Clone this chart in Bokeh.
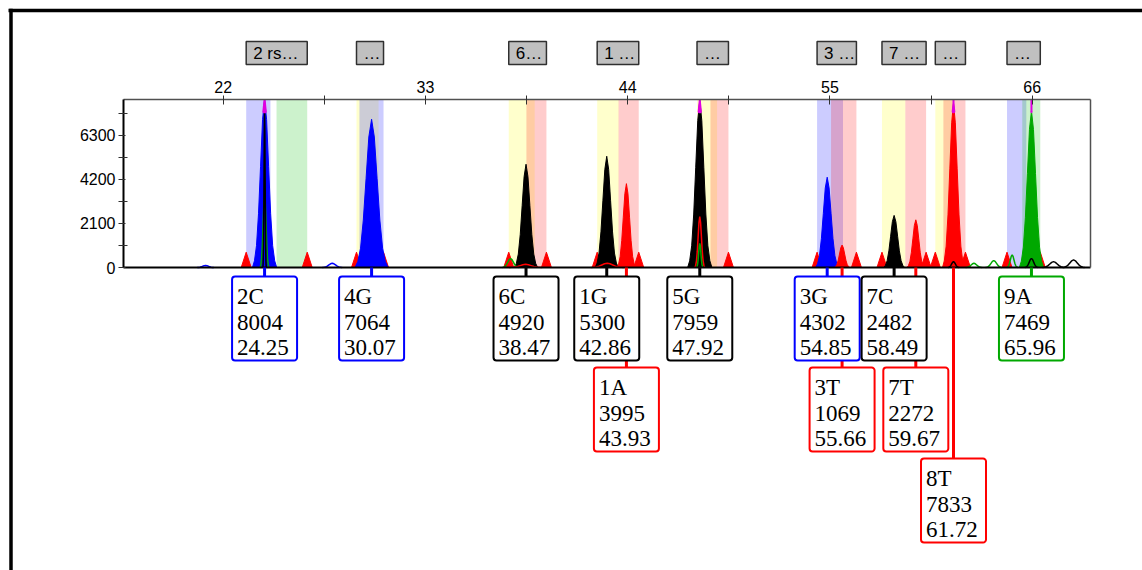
from bokeh.plotting import figure
from bokeh.models import Range1d, FixedTicker, LinearAxis
from bokeh.core.properties import value
from bokeh.embed import file_html
from bokeh.resources import INLINE

# ---- called alleles (peak name, height in RFU, size in bp, dye) ----
ALLELES = ["2C", "4G", "6C", "1G", "1A", "5G", "3G", "3T", "7C", "7T", "8T", "9A"]
SIZES = [24.25, 30.07, 38.47, 42.86, 43.93, 47.92, 54.85, 55.66, 58.49, 59.67, 61.72, 65.96]
HEIGHTS = [8004, 7064, 4920, 5300, 3995, 7959, 4302, 1069, 2482, 2272, 7833, 7469]
DYES = ["blue", "blue", "black", "black", "red", "black", "blue", "red", "black", "red", "red", "green"]
PEAK_WIDTHS = [0.22, 0.30, 0.21, 0.21, 0.17, 0.22, 0.21, 0.14, 0.19, 0.16, 0.20, 0.22]

# ---- marker panels and their allele bins ----
MARKER_NAMES = ["2 rs…", "…", "6…", "1 …", "…", "3 …", "7 …", "…", "…"]
BIN_MARKER = [0, 0, 1, 1, 2, 2, 3, 3, 4, 4, 5, 5, 6, 6, 7, 7, 8, 8]
BIN_START = [23.25, 24.90, 29.25, 29.41, 37.53, 38.49, 42.34, 43.50, 47.77, 48.50,
             54.30, 55.06, 57.83, 59.10, 60.73, 61.17, 64.63, 65.46]
BIN_END = [24.57, 26.57, 30.45, 30.72, 38.94, 39.58, 43.51, 44.60, 48.86, 49.48,
           55.71, 56.44, 59.10, 60.23, 61.71, 62.37, 65.68, 66.44]
BIN_DYE = ["blue", "green", "yellow", "blue", "yellow", "red", "yellow", "red", "yellow", "red",
           "blue", "red", "yellow", "red", "yellow", "red", "blue", "green"]
EDGE_PEAK_HEIGHT = 730

# ---- minor trace signal drawn as outlines ----
TRACE_DYE = ["green", "black", "red", "green", "blue", "blue", "green", "red", "red",
             "black", "green", "green", "green", "black", "black", "black"]
TRACE_POS = [24.25, 24.25, 47.92, 47.92, 21.04, 27.93, 37.63, 38.45, 42.89,
             61.72, 62.83, 63.91, 64.91, 65.96, 67.16, 68.25]
TRACE_HEIGHT = [3430, 7400, 2430, 1150, 100, 200, 430, 150, 200,
                280, 200, 330, 600, 430, 280, 360]
TRACE_WIDTH = [0.08, 0.03, 0.09, 0.06, 0.15, 0.18, 0.15, 0.30, 0.30,
               0.10, 0.15, 0.15, 0.10, 0.12, 0.20, 0.20]

X_TICKS = [22, 33, 44, 55, 66]
Y_TICKS = [0, 2100, 4200, 6300]
SATURATION = 7400

# ---- styling ----
DYE_COLORS = {"blue": "#0000ff", "black": "#000000", "red": "#ff0000",
              "green": "#00a800", "yellow": "#ffff00"}
BIN_COLORS = {"blue": "#0000ff", "red": "#ff0000", "yellow": "#ffff00", "green": "#00c000"}
PROFILE_OFFSETS = [-3, -2.5, -2, -1.5, -1, -0.5, 0, 0.5, 1, 1.5, 2, 2.5, 3]
PROFILE_LEVELS = [0.0, 0.04, 0.13, 0.32, 0.60, 0.88, 1.0, 0.88, 0.60, 0.32, 0.13, 0.04, 0.0]

W, H = 1142, 570
FL, FR, FT, FB = 123, 1090, 99, 267          # trace box on the canvas, pixels
X0, X1 = 16.577, 69.171                       # size range shown in the trace box
YMAX = max(HEIGHTS)
DX = (X1 - X0) / (FR - FL)                    # size units per pixel
DY = YMAX / (FB - FT)                         # RFU per pixel


def xd(px):
    return X0 + (px - FL) * DX


def yd(py):
    return (FB - py) * DY


def peak_shape(pos, height, width):
    xs = [pos + o * width for o in PROFILE_OFFSETS]
    ys = [height * lv for lv in PROFILE_LEVELS]
    return xs, ys


def part_above(xs, ys, level):
    ox, oy = [], []
    for i in range(len(xs) - 1):
        x0, y0, x1, y1 = xs[i], ys[i], xs[i + 1], ys[i + 1]
        if y0 >= level:
            ox.append(x0)
            oy.append(y0)
        if (y0 - level) * (y1 - level) < 0:
            t = (level - y0) / (y1 - y0)
            ox.append(x0 + t * (x1 - x0))
            oy.append(level)
    return ox, oy


# the frame covers the whole canvas; the axes sit on the trace box edges
p = figure(width=W, height=H, x_range=Range1d(xd(0), xd(W)), y_range=Range1d(yd(H), yd(0)),
           x_axis_type=None, y_axis_type=None, output_backend="svg", toolbar_location=None,
           min_border_left=0, min_border_right=0, min_border_top=0, min_border_bottom=0)
p.grid.visible = False
p.background_fill_color = "white"
p.border_fill_color = "white"
p.outline_line_color = None

x_minor = [t + (X_TICKS[1] - X_TICKS[0]) / 2 for t in X_TICKS]
y_minor = [t + (Y_TICKS[1] - Y_TICKS[0]) / 2 for t in Y_TICKS]
xaxis = LinearAxis(fixed_location=YMAX, bounds=(X0, X1),
                   ticker=FixedTicker(ticks=X_TICKS, minor_ticks=[t for t in x_minor if t < X1]))
yaxis = LinearAxis(fixed_location=X0, bounds=(0, YMAX),
                   ticker=FixedTicker(ticks=Y_TICKS, minor_ticks=[t for t in y_minor if t < YMAX]))
for ax in (xaxis, yaxis):
    ax.major_label_text_font = "Liberation Sans"
    ax.major_label_text_font_size = "16px"
    ax.major_label_text_color = "black"
    ax.major_tick_line_color = "#303030"
    ax.minor_tick_line_color = "#303030"
xaxis.axis_line_color = "#505050"
xaxis.axis_line_width = 1.5
xaxis.major_tick_in = 5
xaxis.major_tick_out = 4
xaxis.minor_tick_in = 5
xaxis.minor_tick_out = 4
xaxis.major_label_standoff = 3
yaxis.axis_line_color = "black"
yaxis.axis_line_width = 2
yaxis.major_tick_in = 2
yaxis.major_tick_out = 5
yaxis.minor_tick_in = 4
yaxis.minor_tick_out = 5
yaxis.major_label_standoff = 3

# allele bins
p.quad(left=BIN_START, right=BIN_END, bottom=0, top=YMAX,
       fill_color=[BIN_COLORS[d] for d in BIN_DYE], fill_alpha=0.2, line_color=None)

# small red flags at each panel edge
n_markers = len(MARKER_NAMES)
panel_left = [min(s for s, m in zip(BIN_START, BIN_MARKER) if m == k) for k in range(n_markers)]
panel_right = [max(e for e, m in zip(BIN_END, BIN_MARKER) if m == k) for k in range(n_markers)]
edge_half = 5 * DX
exs, eys = [], []
for e in panel_left + panel_right:
    exs.append([e - edge_half, e, e + edge_half])
    eys.append([0, EDGE_PEAK_HEIGHT, 0])
p.patches(exs, eys, fill_color="#ff0000", line_color="#ff0000", line_width=1)

# called peaks
pxs, pys = [], []
for pos, h, w in zip(SIZES, HEIGHTS, PEAK_WIDTHS):
    xs, ys = peak_shape(pos, h, w)
    pxs.append(xs)
    pys.append(ys)
cols = [DYE_COLORS[d] for d in DYES]
p.patches(pxs, pys, fill_color=cols, line_color=cols, line_width=1)

# outline traces
txs, tys = [], []
for pos, h, w in zip(TRACE_POS, TRACE_HEIGHT, TRACE_WIDTH):
    xs, ys = peak_shape(pos, h, w)
    txs.append(xs)
    tys.append(ys)
p.multi_line(txs, tys, line_color=[DYE_COLORS[d] for d in TRACE_DYE], line_width=1.5)

# saturated peak tops
mxs, mys, sx, sy0, sy1 = [], [], [], [], []
for xs, ys, pos, h in zip(pxs, pys, SIZES, HEIGHTS):
    if h > SATURATION:
        ax_, ay_ = part_above(xs, ys, SATURATION)
        mxs.append(ax_)
        mys.append(ay_)
        sx.append(pos)
        sy0.append(h)
        sy1.append(YMAX)
p.patches(mxs, mys, fill_color="#e000e0", line_color="#e000e0", line_width=2)
p.segment(x0=sx, y0=sy0, x1=sx, y1=sy1, line_color="#e000e0", line_width=2)

# trace box: baseline and right edge
p.segment(x0=[X0], y0=[0], x1=[X1], y1=[0], line_color="black", line_width=2)
p.segment(x0=[X1], y0=[0], x1=[X1], y1=[YMAX], line_color="#505050", line_width=1.5)

p.add_layout(xaxis, "above")
p.add_layout(yaxis, "left")

# marker panel name boxes
p.quad(left=panel_left, right=panel_right, top=yd(41), bottom=yd(64),
       fill_color="#c0c0c0", line_color="#303030", line_width=1.5)
p.text(x=[l + 7 * DX for l in panel_left], y=[yd(53)] * n_markers, text=MARKER_NAMES,
       text_font=value("Liberation Sans"), text_font_size=value("17px"),
       text_color="black", text_baseline="middle", text_align="left")

# allele call boxes, stacked in rows when they would overlap
BOX_W, BOX_H, ROW_STEP, ROW0 = 65, 84, 91, 276
half = BOX_W / 2 * DX
row_right = []
rows = []
for pos in SIZES:
    r = 0
    while r < len(row_right) and pos - half < row_right[r]:
        r += 1
    if r == len(row_right):
        row_right.append(pos + half)
    else:
        row_right[r] = pos + half
    rows.append(r)

tops = [yd(ROW0 + ROW_STEP * r) for r in rows]
bottoms = [yd(ROW0 + ROW_STEP * r + BOX_H) for r in rows]
p.segment(x0=SIZES, y0=[0] * len(SIZES), x1=SIZES, y1=tops,
          line_color=cols, line_width=3)
p.quad(left=[s - half for s in SIZES], right=[s + half for s in SIZES], top=tops, bottom=bottoms,
       fill_color="white", line_color=cols, line_width=2, border_radius=3)

lab_x, lab_y, lab_t = [], [], []
for name, pos, h, r in zip(ALLELES, SIZES, HEIGHTS, rows):
    top_px = ROW0 + ROW_STEP * r
    for i, txt in enumerate([name, str(h), f"{pos:.2f}"]):
        lab_x.append(pos - half + 5 * DX)
        lab_y.append(yd(top_px + 20 + 25.5 * i))
        lab_t.append(txt)
p.text(x=lab_x, y=lab_y, text=lab_t, text_font=value("Liberation Serif"),
       text_font_size=value("23px"), text_color="black",
       text_baseline="alphabetic", text_align="left")

# outer frame
p.segment(x0=[xd(8), xd(10.5)], y0=[yd(10), yd(8.3)], x1=[xd(W + 10), xd(10.5)],
          y1=[yd(10), yd(H + 10)], line_color="black", line_width=3.5)

open("out.html", "w").write(file_html(p, INLINE))
